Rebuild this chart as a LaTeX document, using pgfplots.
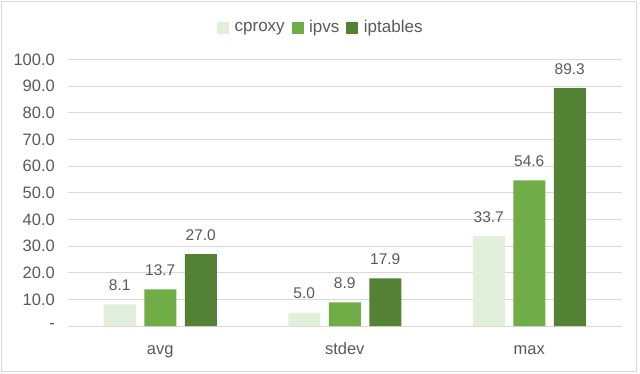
\documentclass[border=0pt]{standalone}
\usepackage{pgfplots}
\pgfplotsset{compat=1.18}
\usepackage{fontspec}
\setmainfont{Liberation Sans}
\definecolor{txt}{HTML}{595959}
\definecolor{grid}{HTML}{D9D9D9}
\definecolor{cA}{HTML}{E2EFDA}
\definecolor{cB}{HTML}{70AD47}
\definecolor{cC}{HTML}{548235}
\begin{document}
\begin{tikzpicture}[x=1pt,y=1pt]
\path (0,0) rectangle (640,373);
\draw[color=grid, line width=0.8pt] (1.5,1.5) rectangle (636,371.5);
\begin{axis}[
  at={(68pt,47pt)}, anchor=south west,
  scale only axis, width=553.5pt, height=266.5pt,
  ybar=8.5pt, bar width=32pt,
  xmin=-0.5, xmax=2.5, ymin=0, ymax=100,
  xtick={0,1,2}, xticklabels={avg,stdev,max},
  ytick={0,10,...,100},
  yticklabels={-,10.0,20.0,30.0,40.0,50.0,60.0,70.0,80.0,90.0,100.0},
  /pgf/number format/assume math mode=true,
  axis line style={draw=none},
  axis x line*=bottom,
  x axis line style={draw=grid, line width=0.8pt},
  major tick length=0pt,
  ymajorgrids, grid style={draw=grid, line width=0.8pt},
  tick label style={font=\fontsize{16.5}{19}\selectfont, text=txt},
  yticklabel style={anchor=east, inner sep=0pt, xshift=-13pt},
  xticklabel style={anchor=base, inner sep=0pt, yshift=-28pt},
  nodes near coords={\pgfmathprintnumber[fixed,fixed zerofill,precision=1]{\pgfplotspointmeta}},
  nodes near coords style={anchor=base, inner sep=0pt, yshift=14pt, font=\fontsize{15.5}{18}\selectfont, text=txt},
  legend style={at={(0.455,1.12)}, anchor=center, draw=none, fill=none,
    legend columns=-1, font=\fontsize{17}{20}\selectfont, text=txt,
    nodes={inner sep=0pt},
    /tikz/every odd column/.append style={column sep=5.5pt},
    /tikz/every even column/.append style={column sep=7pt}},
  legend image code/.code={\fill[#1] (0pt,-6pt) rectangle (12pt,6pt);},
  clip=false,
]
\addplot[draw=none, fill=cA] coordinates {(0,8.1) (1,5.0) (2,33.7)};
\addplot[draw=none, fill=cB] coordinates {(0,13.7) (1,8.9) (2,54.6)};
\addplot[draw=none, fill=cC] coordinates {(0,27.0) (1,17.9) (2,89.3)};
\legend{cproxy,ipvs,iptables}
\end{axis}
\end{tikzpicture}
\end{document}
